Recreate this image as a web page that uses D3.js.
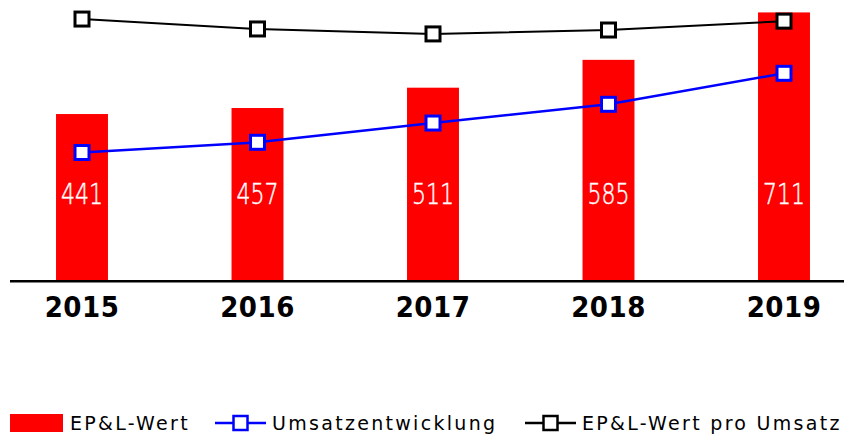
<!DOCTYPE html>
<html>
<head>
<meta charset="utf-8">
<script src="https://cdn.jsdelivr.net/npm/d3@7"></script>
<style>
  body { margin: 0; background: #fff; }
  svg { display: block; }
</style>
</head>
<body>
<svg id="chart"></svg>
<script>
const width = 844;
const height = 435;
const baseY = 280; // bottom of the bars

// EP&L-Wert in Mio. EUR, plus two index series (2015 = 100)
const data = [
    { year: '2015', epl: 441, umsatz: 100,   proUmsatz: 100 },
    { year: '2016', epl: 457, umsatz: 108,   proUmsatz: 96.2 },
    { year: '2017', epl: 511, umsatz: 123.1, proUmsatz: 94.3 },
    { year: '2018', epl: 585, umsatz: 137.8, proUmsatz: 95.8 },
    { year: '2019', epl: 711, umsatz: 162.1, proUmsatz: 99.2 }
];

const red = '#ff0000';
const blue = '#0000ff';

const svg = d3.select('#chart')
    .attr('width', width)
    .attr('height', height);

const x = d3.scaleBand()
    .domain(data.map(d => d.year))
    .range([-5.75, 871.75])
    .paddingInner(0.704)
    .paddingOuter(0.352);

const y = d3.scaleLinear().domain([0, 744]).range([baseY, 0]);
const yUmsatz = d3.scaleLinear().domain([0, 219.6]).range([baseY, 0]);
const yPro = d3.scaleLinear().domain([0, 107.3]).range([baseY, 0]);

const cx = d => x(d.year) + x.bandwidth() / 2;

// bars
svg.append('g')
    .selectAll('rect')
    .data(data)
    .join('rect')
    .attr('x', d => x(d.year))
    .attr('y', d => y(d.epl))
    .attr('width', x.bandwidth())
    .attr('height', d => y(0) - y(d.epl))
    .attr('fill', red);

// value labels inside bars (thin, narrow digits)
svg.append('g')
    .selectAll('text')
    .data(data)
    .join('text')
    .attr('transform', d => `translate(${cx(d)},${baseY - 76}) scale(0.76,1)`)
    .attr('text-anchor', 'middle')
    .attr('fill', '#fff')
    .attr('stroke', '#fff')
    .attr('stroke-width', 0.5)
    .attr('font-family', "'DejaVu Sans ExtraLight', 'DejaVu Sans', sans-serif")
    .attr('font-weight', 200)
    .attr('font-size', 29)
    .text(d => d.epl);

// axis baseline + year labels
const xAxis = svg.append('g')
    .attr('transform', `translate(0,${baseY + 1.3})`)
    .call(d3.axisBottom(x).tickSize(0).tickPadding(15));
xAxis.select('.domain')
    .attr('d', `M10,0H${width}`)
    .attr('stroke', '#000')
    .attr('stroke-width', 2.5);
xAxis.selectAll('text')
    .attr('dy', '0.71em')
    .attr('fill', '#000')
    .attr('font-family', "'DejaVu Sans Condensed', 'DejaVu Sans', sans-serif")
    .attr('font-weight', 'bold')
    .attr('font-size', 29)
    .attr('letter-spacing', 0.5);

// lines
function drawSeries(key, scale, color, lineWidth) {
    const line = d3.line()
        .x(cx)
        .y(d => scale(d[key]));
    svg.append('path')
        .datum(data)
        .attr('fill', 'none')
        .attr('stroke', color)
        .attr('stroke-width', lineWidth)
        .attr('d', line);
    svg.append('g')
        .selectAll('rect')
        .data(data)
        .join('rect')
        .attr('x', d => cx(d) - 7)
        .attr('y', d => scale(d[key]) - 7)
        .attr('width', 14)
        .attr('height', 14)
        .attr('fill', '#fff')
        .attr('stroke', color)
        .attr('stroke-width', 3);
}
drawSeries('umsatz', yUmsatz, blue, 2.5);
drawSeries('proUmsatz', yPro, '#000', 2);

// legend
const legendItems = [
    { label: 'EP&L-Wert', type: 'bar', color: red, x: 10 },
    { label: 'Umsatzentwicklung', type: 'line', color: blue, x: 215 },
    { label: 'EP&L-Wert pro Umsatz', type: 'line', color: '#000', x: 525 }
];
const legendY = 423;

const legend = svg.append('g')
    .selectAll('g')
    .data(legendItems)
    .join('g')
    .attr('transform', d => `translate(${d.x},${legendY})`);

legend.filter(d => d.type === 'bar')
    .append('rect')
    .attr('x', 0)
    .attr('y', -9)
    .attr('width', 53)
    .attr('height', 18)
    .attr('fill', d => d.color);

const lineItems = legend.filter(d => d.type === 'line');
lineItems.append('line')
    .attr('x1', 0)
    .attr('x2', 51)
    .attr('stroke', d => d.color)
    .attr('stroke-width', 2.5);
lineItems.append('rect')
    .attr('x', 18.5)
    .attr('y', -7)
    .attr('width', 14)
    .attr('height', 14)
    .attr('fill', '#fff')
    .attr('stroke', d => d.color)
    .attr('stroke-width', 2.5);

legend.append('text')
    .attr('x', d => d.type === 'bar' ? 60 : 57)
    .attr('y', 6.5)
    .attr('fill', '#000')
    .attr('font-family', "'DejaVu Sans', sans-serif")
    .attr('font-size', 19)
    .attr('letter-spacing', 2.3)
    .text(d => d.label);
</script>
</body>
</html>
